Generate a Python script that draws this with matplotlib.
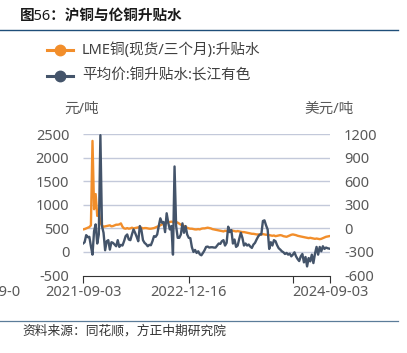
import numpy as np
import pandas as pd
import matplotlib
matplotlib.use("Agg")
import matplotlib.pyplot as plt
from matplotlib.lines import Line2D

plt.rcParams["font.family"] = ["Noto Sans", "Noto Sans CJK SC"]
plt.rcParams["axes.unicode_minus"] = False

ORANGE, NAVY, GREY, GRID = "#F28E2B", "#44546A", "#595959", "#C3C9DA"

# weekly observations, 2021-09-03 .. 2024-08-30
dates = pd.date_range("2021-09-03", periods=157, freq="7D")

# LME copper cash/3M spread, USD/t (right axis)
lme_spread = [
    -13, -9, 0, 9, 17, 39, 1114, 244, 437, 159, 210, 73, 39, 21, 26, 30, 34, 39, 26, 30,
    39, 47, 47, 51, 64, 21, 0, -4,
    4, -4, 0, 9, 0, 4,
    9, 13, 4, 9, 0, 4, 4, 0, -4, -4, 0, 4,
    13, 21, 30, 39, 51, 60, 69,
    73, 77, 81, 86, 81, 90,
    81, 73, 60, 47, 39,
    30, 17, 9, 0, -4, -4, -9,
    -13, -13, -9, -13, -4, 0, 0,
    4, 9, 4, 0, -9, -13, -17, -21,
    -26, -30, -34, -39, -30, -34,
    -30, -26, -26, -30, -34, -39, -34, -39,
    -43, -47, -47, -51, -56, -60,
    -64, -69, -69, -73, -77, -77, -81,
    -77, -73, -77, -81, -81, -86, -90, -94,
    -90, -99, -94, -90, -86, -90, -99,
    -103, -107, -99, -90, -81, -77, -81,
    -86, -94, -99, -103, -107, -111, -116,
    -120, -124, -120, -124, -129, -133, -129, -133,
    -137, -133, -124, -116, -107, -103, -99,
]

# Changjiang spot copper premium, CNY/t (left axis)
cj_premium = [
    179, 207, 357, 314, 321, 121, -57, 443, 585, 179, 371, 2478, 550, 407, 36, 228, 250, 50, 207, 193,
    157, 121, 250, 107, 150, 136, 228, 336, 371, 264, 250, 371, 478, 407, 321, 228, 550, 464, 250, 193,
    164, 121, 150, 143, 228, 336, 321, 371, 550, 714, 621, 636, 421, 821, 621, 478, 550, -57, 1814, 550,
    300, 300, 371, 607, 407, 550, 371, 300, 293, 100, 0, 43, -21, 14, -50, -71, -21, 36, 107, 114,
    93, 100, 100, 93, 93, 136, 179, 171, 228, 250, 136, 193, 536, 421, 464, 179, 264, 107, 136, 278,
    407, 300, 136, 179, 136, 157, 114, 86, 157, 193, 264, 328, 371, 371, 657, 671, 564, 478, 64, 207,
    136, 250, 228, 143, 79, 50, 14, -7, -43, -21, -57, -36, -93, -57, -7, -93, -150, -193, -93, -43,
    -221, -107, -307, -129, -200, -57, -236, -36, 107, -57, 107, 14, 121, 64, 93, 79, 71,
]

xtick_dates = ["2021-09-03", "2022-12-16", "2024-03-22", "2024-09-03"]
xtick_labels = ["2021-09-03", "2022-12-16", "", "2024-09-03"]
x_start, x_end = pd.Timestamp("2021-09-03"), pd.Timestamp("2024-09-03")

fig = plt.figure(figsize=(4.07, 3.53), dpi=100)
ax = fig.add_axes([0.204, 0.2195, 0.607, 0.4005])
ax2 = ax.twinx()
ax.set_zorder(ax2.get_zorder() + 1); ax.patch.set_visible(False)

ax2.plot(dates, lme_spread, color=ORANGE, lw=1.7, zorder=2)
ax.plot(dates, cj_premium, color=NAVY, lw=1.7, zorder=3)

ax.set_xlim(x_start, x_end)
ax.set_ylim(-500, 2500); ax.set_yticks(np.arange(-500, 2501, 500))
ax2.set_ylim(-600, 1200); ax2.set_yticks(np.arange(-600, 1201, 300))

# horizontal gridlines in data coordinates, beneath both series
ax2.hlines(np.arange(-300, 1201, 300), x_start, x_end, colors=GRID, lw=1.0, zorder=1)

for a in (ax, ax2):
    for s in a.spines.values(): s.set_visible(False)
    a.tick_params(colors=GREY, labelsize=10.5)
ax.tick_params(axis="y", length=0, pad=10)
ax2.tick_params(axis="y", length=0, pad=10)

ax.set_xticks(pd.to_datetime(xtick_dates)); ax.set_xticklabels(xtick_labels)
ax.spines["bottom"].set_visible(True); ax.spines["bottom"].set_color("#333333")
ax.tick_params(axis="x", length=5, color="#333333", pad=2)
ax2.tick_params(axis="x", length=0)

fig.text(0.2015, 0.691, "元/吨", ha="center", va="center", fontsize=10.5, color=GREY)
fig.text(0.808, 0.691, "美元/吨", ha="center", va="center", fontsize=10.5, color=GREY)

# stray tick label running off the left edge, as in the source
fig.text(20 / 407, 1 - 292 / 353, "2021-09-0", ha="right", va="center", fontsize=10.5, color=GREY)

# title and rules
fig.text(20 / 407, 1 - 17 / 353, "图56：沪铜与伦铜升贴水", ha="left", va="center",
         fontsize=10.5, fontweight="bold", color="#1a1a1a")
fig.add_artist(Line2D([0, 398 / 407], [1 - 29.5 / 353] * 2, color="#1F4E79", lw=1.0))
fig.add_artist(Line2D([0, 398 / 407], [1 - 320.5 / 353] * 2, color="#5B7C99", lw=0.9))
fig.text(22 / 407, 1 - 331 / 353, "资料来源：同花顺，方正中期研究院", ha="left", va="center",
         fontsize=9.2, style="italic", color="#333333")

# legend
for yy, col, lab in [(50, ORANGE, "LME铜(现货/三个月):升贴水"), (76, NAVY, "平均价:铜升贴水:长江有色")]:
    fig.add_artist(Line2D([47 / 407, 73 / 407], [1 - yy / 353] * 2, color=col, lw=2.2))
    fig.add_artist(Line2D([60 / 407], [1 - yy / 353], color=col, marker="o", markersize=7.5, lw=0))
    fig.text(82 / 407, 1 - yy / 353, lab, ha="left", va="center", fontsize=10.5, color="#404040")

fig.savefig("out.png", dpi=100)
